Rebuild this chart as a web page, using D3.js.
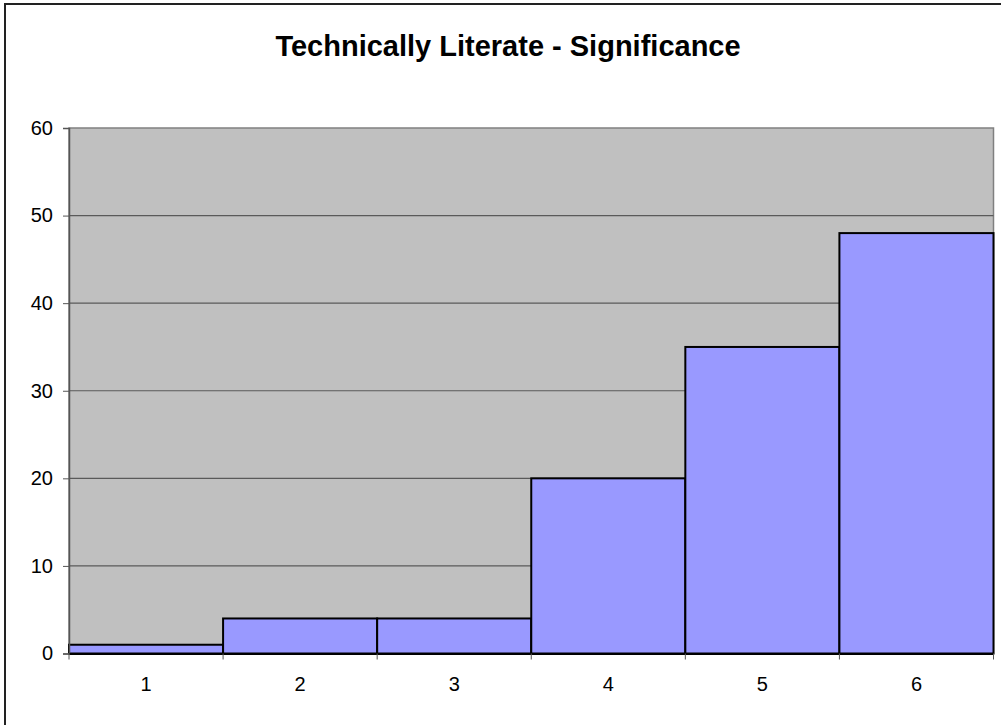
<!DOCTYPE html>
<html lang="en">
<head>
  <meta charset="UTF-8">
  <title>Technically Literate - Significance</title>
  <script src="https://d3js.org/d3.v7.min.js"></script>
  <style>
    body { margin: 0; background: #fff; }
    text { font-family: "Liberation Sans", Arial, sans-serif; }
  </style>
</head>
<body>
  <div id="chart"></div>
  <script>
  const categories = ["1", "2", "3", "4", "5", "6"];
  const values = [1, 4, 4, 20, 35, 48];
  const yTicks = [0, 10, 20, 30, 40, 50, 60];
  const title = "Technically Literate - Significance";

  const w = 1001, h = 725;
  const margin = {top: 128, right: 8, bottom: 72, left: 69};
  const gw = 993.5 - margin.left;
  const gh = 653.5 - margin.top;

  const svg = d3.select("#chart").append("svg")
    .attr("width", w)
    .attr("height", h);

  // outer chart frame
  svg.append("rect")
    .attr("x", 5).attr("y", 4)
    .attr("width", 1010).attr("height", 730)
    .attr("fill", "none")
    .attr("stroke", "#222")
    .attr("stroke-width", 2);

  svg.append("text")
    .attr("x", 508).attr("y", 56)
    .attr("text-anchor", "middle")
    .attr("font-size", 29)
    .attr("font-weight", "bold")
    .text(title);

  const graph = svg.append("g")
    .attr("transform", `translate(${margin.left},${margin.top})`);

  const x = d3.scaleBand()
    .domain(categories)
    .range([0, gw])
    .padding(0);

  const y = d3.scaleLinear()
    .domain([0, 60])
    .range([gh, 0]);

  graph.append("rect")
    .attr("width", gw).attr("height", gh)
    .attr("fill", "#c0c0c0")
    .attr("stroke", "#808080")
    .attr("stroke-width", 1.5);

  graph.selectAll("line.grid")
    .data(yTicks.filter(d => d > 0 && d < 60))
    .enter().append("line")
      .attr("class", "grid")
      .attr("x1", 0).attr("x2", gw)
      .attr("y1", d => y(d)).attr("y2", d => y(d))
      .attr("stroke", "#5a5a5a")
      .attr("stroke-width", 1.2);

  graph.selectAll("rect.bar")
    .data(values)
    .enter().append("rect")
      .attr("class", "bar")
      .attr("x", (d, i) => x(categories[i]))
      .attr("y", d => y(d))
      .attr("width", x.bandwidth())
      .attr("height", d => gh - y(d))
      .attr("fill", "#9999ff")
      .attr("stroke", "#000")
      .attr("stroke-width", 2);

  // y axis
  const yAxis = d3.axisLeft(y)
    .tickValues(yTicks)
    .tickSize(6)
    .tickPadding(10);
  const yg = graph.append("g").call(yAxis);
  yg.select(".domain").attr("stroke", "#555").attr("stroke-width", 1.5);
  yg.selectAll(".tick line").attr("stroke", "#555");
  yg.selectAll("text")
    .attr("font-size", 20)
    .attr("fill", "#000")
    .attr("font-family", "Liberation Sans, Arial, sans-serif");

  // x axis
  const xAxis = d3.axisBottom(x).tickSize(0).tickPadding(23);
  const xg = graph.append("g")
    .attr("transform", `translate(0,${gh})`)
    .call(xAxis);
  xg.select(".domain").attr("stroke", "#000").attr("stroke-width", 2);
  xg.selectAll("text")
    .attr("font-size", 20)
    .attr("fill", "#000")
    .attr("font-family", "Liberation Sans, Arial, sans-serif");

  const bounds = categories.map(c => x(c)).concat([gw]);
  xg.selectAll("line.sep")
    .data(bounds)
    .enter().append("line")
      .attr("class", "sep")
      .attr("x1", d => d).attr("x2", d => d)
      .attr("y1", 0).attr("y2", 6)
      .attr("stroke", "#555");
  </script>
</body>
</html>
